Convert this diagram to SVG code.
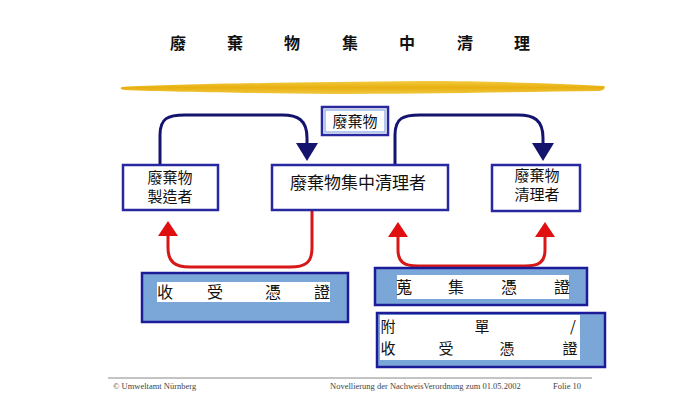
<svg xmlns="http://www.w3.org/2000/svg" width="688" height="402" viewBox="0 0 688 402">
<defs>
<linearGradient id="brush" x1="0" y1="0" x2="0" y2="1">
<stop offset="0" stop-color="#f2cc40"/>
<stop offset="0.5" stop-color="#e8b010"/>
<stop offset="1" stop-color="#f0c840"/>
</linearGradient>
<style>
.t{font-family:"Noto Sans CJK TC","Noto Sans CJK SC",sans-serif;fill:#111;}
.title{font-size:16px;font-weight:bold;text-anchor:middle;}
.nb{font-size:15px;text-anchor:middle;}
.node{fill:#fff;stroke:#2828a0;stroke-width:2.5;}
.doc{fill:#7ba7d8;stroke:#1c1c98;stroke-width:2.5;}
.band{fill:#fff;}
.dt{font-size:16px;text-anchor:middle;}
.blue{fill:none;stroke:#14146e;stroke-width:3;}
.red{fill:none;stroke:#d81818;stroke-width:3;}
.bh{fill:#14146e;}
.rh{fill:#e01010;}
.foot{font-family:"Liberation Serif",serif;font-size:8.5px;fill:#444;}
</style>
</defs>
<rect width="688" height="402" fill="#fff"/>
<g id="title">
<text class="t title" x="178" y="49">廢</text>
<text class="t title" x="235" y="49">棄</text>
<text class="t title" x="292" y="49">物</text>
<text class="t title" x="350" y="49">集</text>
<text class="t title" x="407" y="49">中</text>
<text class="t title" x="465" y="49">清</text>
<text class="t title" x="522" y="49">理</text>
</g>
<path id="brushstroke" d="M122,87 C180,84 300,82 420,81 C500,81 560,84 604,86 C606,88 604,90 600,91 C520,92 420,94 330,94 C250,93 170,92 124,90 C120,89 120,88 122,87 Z" fill="url(#brush)"/>
<g id="connectors">
<path class="blue" d="M160,165 L160,135 C160,118 168,115 185,115 L282,115 C298,115 307,120 307,138 L307,146"/>
<polygon class="bh" points="296,143 318,143 307,161"/>
<path class="blue" d="M395,165 L395,135 C395,118 403,115 420,115 L518,115 C534,115 543,120 543,138 L543,146"/>
<polygon class="bh" points="532,143 554,143 543,161"/>
<path class="red" d="M312,210 L312,248 C312,263 305,267 290,267 L190,267 C175,267 168,262 168,248 L168,234"/>
<polygon class="rh" points="158,236 178,236 168,221"/>
<path class="red" d="M398,236 L398,250 C398,262 404,266 418,266 L525,266 C539,266 545,262 545,250 L545,236"/>
<polygon class="rh" points="388,237 408,237 398,222"/>
<polygon class="rh" points="535,237 555,237 545,222"/>
</g>
<g id="label-waste">
<rect x="322" y="107" width="66" height="28" fill="#fff" stroke="#2828a0" stroke-width="2.5"/>
<rect x="325" y="110" width="60" height="22" fill="none" stroke="#9db8e8" stroke-width="1.5"/>
<text class="t nb" x="355" y="127">廢棄物</text>
</g>
<g id="producer">
<rect class="node" x="123" y="165" width="95" height="45"/>
<text class="t nb" x="170" y="183">廢棄物</text>
<text class="t nb" x="170" y="202">製造者</text>
</g>
<g id="collector">
<rect class="node" x="272" y="165" width="176" height="45"/>
<text class="t nb" x="358" y="189" style="font-size:17px">廢棄物集中清理者</text>
</g>
<g id="processor">
<rect class="node" x="492" y="165" width="88" height="46"/>
<text class="t nb" x="537" y="181">廢棄物</text>
<text class="t nb" x="537" y="200">清理者</text>
</g>
<g id="receipt1">
<rect class="doc" x="142" y="273" width="206" height="49"/>
<rect class="band" x="157" y="282" width="173" height="20"/>
<text class="t dt" x="165" y="298">收</text>
<text class="t dt" x="215" y="298">受</text>
<text class="t dt" x="273" y="298">憑</text>
<text class="t dt" x="322" y="298">證</text>
</g>
<g id="collect">
<rect class="doc" x="375" y="268" width="212" height="37"/>
<rect class="band" x="397" y="275" width="172" height="24"/>
<text class="t dt" x="404" y="293">蒐</text>
<text class="t dt" x="456" y="293">集</text>
<text class="t dt" x="509" y="293">憑</text>
<text class="t dt" x="562" y="293">證</text>
</g>
<g id="attach">
<rect class="doc" x="377" y="313" width="228" height="54"/>
<rect class="band" x="380" y="315" width="200" height="45"/>
<text class="t dt" x="388" y="332" style="font-size:15px">附</text>
<text class="t dt" x="482" y="332" style="font-size:15px">單</text>
<text class="t dt" x="573" y="332" style="font-size:15px">/</text>
<text class="t dt" x="388" y="354" style="font-size:15px">收</text>
<text class="t dt" x="446" y="354" style="font-size:15px">受</text>
<text class="t dt" x="507" y="354" style="font-size:15px">憑</text>
<text class="t dt" x="570" y="354" style="font-size:15px">證</text>
</g>
<g id="footer">
<line x1="108" y1="378" x2="592" y2="378" stroke="#888" stroke-width="1"/>
<text class="foot" x="113" y="389">© Umweltamt Nürnberg</text>
<text class="foot" x="330" y="389">Novellierung der NachweisVerordnung zum 01.05.2002</text>
<text class="foot" x="553" y="389">Folie 10</text>
</g>
</svg>
